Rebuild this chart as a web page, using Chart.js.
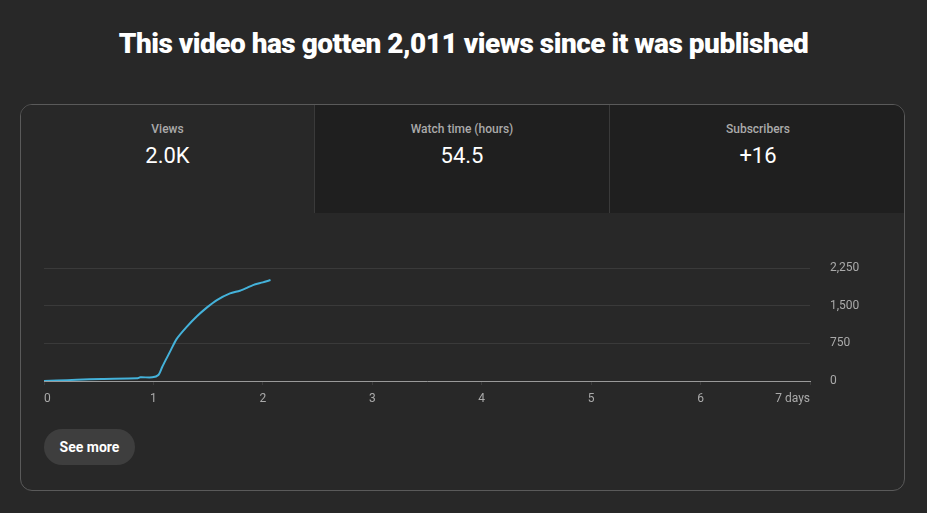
<!DOCTYPE html>
<html><head><meta charset="utf-8">
<script src="https://cdn.jsdelivr.net/npm/chart.js@4/dist/chart.umd.min.js"></script>
<style>
html,body{margin:0;padding:0;background:#282828;width:927px;height:513px;overflow:hidden;font-family:Roboto,"Noto Sans",sans-serif;}
#title{position:absolute;left:0;top:24px;width:927px;text-align:center;color:#fff;font-weight:900;font-size:28px;letter-spacing:-0.5px;line-height:40px;white-space:nowrap;}
#card{position:absolute;left:20px;top:104px;width:883px;height:385px;border:1px solid #5a5a5a;border-radius:12px;background:#282828;overflow:hidden;}
.tab{position:absolute;top:0;height:108px;width:294px;text-align:center;}
.tab .lbl{position:absolute;top:17px;left:0;right:0;font-size:12px;color:#aaaaaa;font-weight:500;}
.tab .val{position:absolute;top:38px;left:0;right:0;font-size:22px;color:#ffffff;}
#t1{left:0;width:293px;background:#282828;}
#t2{left:293px;background:#1f1f1f;border-left:1px solid #3a3a3a;}
#t3{left:588px;width:296px;background:#1f1f1f;border-left:1px solid #3a3a3a;}
#cv{position:absolute;left:20px;top:212px;}
#btn{position:absolute;left:44px;top:429px;width:91px;height:36px;border-radius:18px;background:#3e3e3e;color:#fff;font-weight:700;font-size:14px;line-height:36px;text-align:center;}
</style></head>
<body>
<div id="title">This video has gotten 2,011 views since it was published</div>
<div id="card">
  <div class="tab" id="t1"><div class="lbl">Views</div><div class="val">2.0K</div></div>
  <div class="tab" id="t2"><div class="lbl">Watch time (hours)</div><div class="val">54.5</div></div>
  <div class="tab" id="t3"><div class="lbl">Subscribers</div><div class="val">+16</div></div>
</div>
<canvas id="cv" width="884" height="208" style="width:884px;height:208px"></canvas>
<div id="btn">See more</div>
<script>
// Days since publish (x) and cumulative views (y)
const days  = [0, 0.12, 0.30, 0.53, 0.85, 0.88, 0.99, 1.045, 1.08, 1.12, 1.16, 1.21, 1.30, 1.40, 1.49, 1.58, 1.70, 1.79, 1.85, 1.91, 2.00, 2.07];
const views = [0, 8, 26, 40, 53, 73, 73, 119, 280, 451, 620, 830, 1068, 1293, 1466, 1612, 1745, 1797, 1850, 1910, 1964, 2011];
const xTicks = [0, 1, 2, 3, 4, 5, 6, 7];
const xTickLabels = ['0', '1', '2', '3', '4', '5', '6', '7 days'];
const yTicks = [0, 750, 1500, 2250];
const yTickLabels = ['0', '750', '1,500', '2,250'];

const pts = days.map((d, i) => ({x: d, y: views[i]}));
new Chart(document.getElementById('cv'), {
  type: 'line',
  data: { datasets: [{ data: pts, borderColor: '#44b2da', borderWidth: 2, pointRadius: 0, tension: 0.25, fill: false }] },
  options: {
    responsive: false, animation: false,
    layout: { padding: { left: 24, top: 56, right: 0, bottom: 0 } },
    plugins: { legend: { display: false }, tooltip: { enabled: false } },
    scales: {
      x: {
        type: 'linear', min: 0, max: 7,
        afterBuildTicks: s => { s.ticks = xTicks.map(v => ({value: v})); },
        afterFit: s => { s.height = 39; },
        ticks: { color: '#aaaaaa', font: { family: 'Roboto', size: 12 }, padding: 7, align: 'inner', maxRotation: 0,
                 callback: (v) => xTickLabels[xTicks.indexOf(v)] },
        grid: { drawOnChartArea: false, drawTicks: true, tickLength: 4, color: '#3c3c3c' },
        border: { display: true, color: '#9a9a9a', width: 1 }
      },
      y: {
        position: 'right', min: 0, max: 2250,
        afterBuildTicks: s => { s.ticks = yTicks.map(v => ({value: v})); },
        afterFit: s => { s.width = 94; },
        ticks: { color: '#aaaaaa', font: { family: 'Roboto', size: 12 }, padding: 20,
                 callback: (v) => yTickLabels[yTicks.indexOf(v)] },
        grid: { drawTicks: false, color: (c) => c.tick && c.tick.value === 0 ? 'rgba(0,0,0,0)' : '#3a3a3a' },
        border: { display: false }
      }
    }
  }
});
</script>
</body></html>
